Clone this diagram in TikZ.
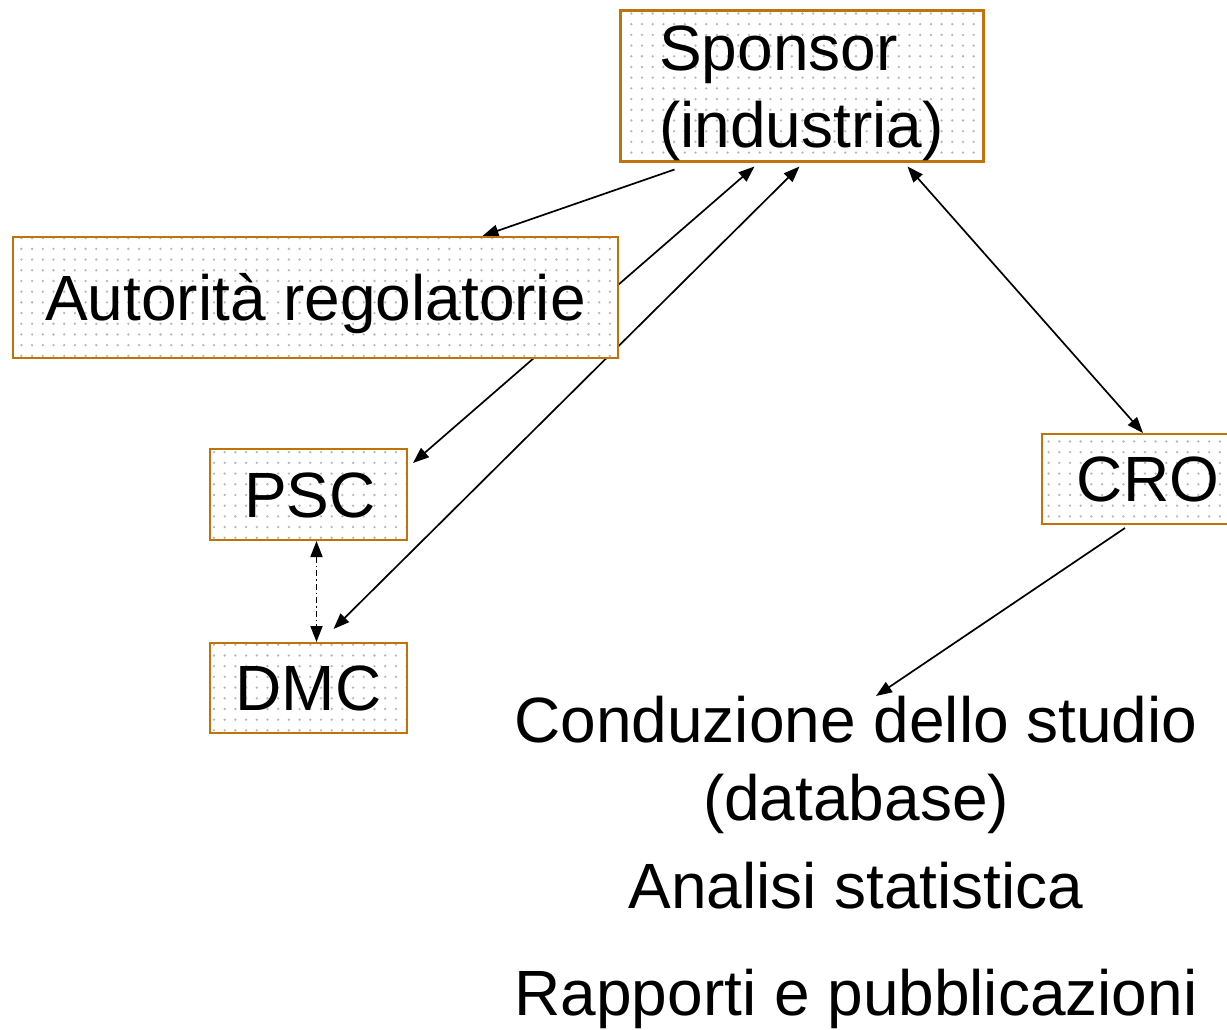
\documentclass[tikz,border=0pt]{standalone}
\usepackage{fontspec}
\setmainfont{Liberation Sans}
\usepackage{tikz}
\usetikzlibrary{positioning,arrows.meta,patterns.meta,backgrounds}
\definecolor{boxline}{HTML}{C0730A}
\definecolor{dotgray}{HTML}{B8B8B8}
\newcommand{\bigtxt}{\fontsize{64}{77}\selectfont}
\tikzset{
  ent/.style={draw=boxline,line width=2pt,preaction={fill=white},pattern={Dots[distance=10.7pt,radius=1.3pt]},pattern color=dotgray,inner sep=0pt,font=\bigtxt},
  entline/.style={ent,text height=58pt,text depth=13pt},
  arr/.style={-{Triangle[length=16pt,width=12pt]},line width=1.7pt},
  darr/.style={{Triangle[length=16pt,width=12pt]}-{Triangle[length=16pt,width=12pt]},line width=1.7pt},
}
\begin{document}
\begin{tikzpicture}[x=1pt,y=-1pt]
  \useasboundingbox (0,0) rectangle (1227,1030);
  \node[ent,line width=3pt,align=left,minimum width=363pt,minimum height=151pt] (sponsor) at (801.5,86.5) {\rule{0pt}{58pt}Sponsor\\(industria)};
  \node[entline,minimum width=605pt,minimum height=121pt] (autorita) at (315.5,297.5) {Autorità regolatorie};
  \node[entline,minimum width=197pt,minimum height=91pt] (psc) at (308.5,494.5) {\hspace*{3pt}PSC};
  \node[entline,minimum width=197pt,minimum height=90pt,below=101pt of psc] (dmc) {DMC};
  \node[entline,minimum width=212pt,minimum height=90pt] (cro) at (1148,479) {CRO};
  \node[anchor=north,inner sep=0pt,align=center,font=\fontsize{64}{78}\selectfont] (study) at (856,696)
       {Conduzione dello studio\\(database)\\[10pt]Analisi statistica\\[29pt]Rapporti e pubblicazioni};
  \begin{scope}[on background layer]
    \draw[arr] ([xshift=56pt,yshift=-6pt]sponsor.south west) -- ([xshift=167pt]autorita.north);
    \draw[darr] ([xshift=5pt,yshift=-15pt]psc.north east) -- ([xshift=-47pt,yshift=-3pt]sponsor.south);
    \draw[darr] ([xshift=25pt,yshift=13pt]dmc.north) -- ([xshift=-2pt,yshift=-3pt]sponsor.south);
    \draw[darr] ([xshift=106pt,yshift=-3pt]sponsor.south) -- ([xshift=-5pt]cro.north);
    \draw[darr,dash pattern=on 6pt off 3pt on 1.5pt off 3pt] ([xshift=8pt]psc.south) -- ([xshift=8pt]dmc.north);
    \draw[arr] ([xshift=-23pt,yshift=-3pt]cro.south) -- ([xshift=20pt]study.north);
  \end{scope}
\end{tikzpicture}
\end{document}
